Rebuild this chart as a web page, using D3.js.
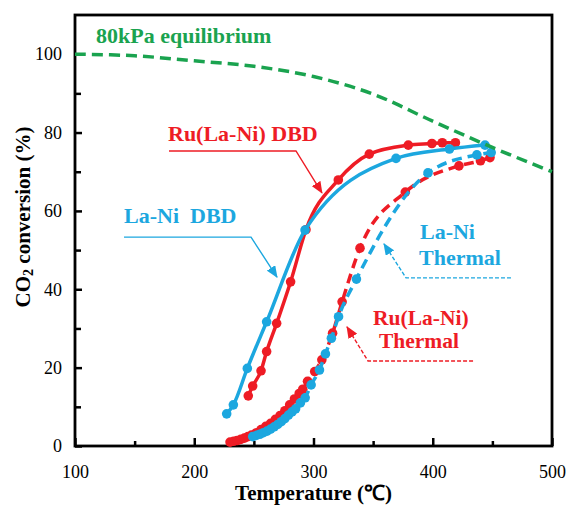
<!DOCTYPE html>
<html><head><meta charset="utf-8">
<script src="https://cdn.jsdelivr.net/npm/d3@7"></script>
<style>body{margin:0;background:#fff}svg{display:block}text{font-family:"Liberation Serif","Times New Roman",serif}</style>
</head><body><svg id="c" width="567" height="505"></svg>
<script>
// ---- data ----
const xTicks = [100, 200, 300, 400, 500];
const xMinorTicks = [150, 250, 350, 450];
const yTicks = [0, 20, 40, 60, 80, 100];
const yMinorTicks = [10, 30, 50, 70, 90];

const eqTemp = [100, 150, 200, 250, 300, 350, 400, 450, 500];
const eqConv = [100, 99.6, 98.3, 96.9, 94.3, 89.8, 82.9, 76.2, 70.0];

const ruDbdTemp = [245.3, 249, 256, 260.7, 269.1, 280.8, 293.7, 320.8, 346.8, 379.5, 399.3, 408, 419];
const ruDbdConv = [12.8, 15.3, 19.2, 24.1, 31.3, 41.9, 55.2, 67.9, 74.5, 76.8, 77.2, 77.4, 77.4];

const laDbdTemp = [227.2, 232.8, 244.5, 260.7, 292.9, 369.2, 414, 443.8];
const laDbdConv = [8.2, 10.5, 19.8, 31.7, 55.1, 73.4, 75.8, 76.8];

const ruThTemp = [230, 233, 236, 239, 242, 245, 248, 252, 256, 260, 264, 268, 272, 276, 280, 284, 288, 291, 295, 301, 307, 316, 324, 339, 377, 422, 440, 448];
const ruThConv = [1.0, 1.2, 1.4, 1.7, 2.0, 2.4, 2.8, 3.4, 4.2, 5.0, 5.8, 6.8, 7.8, 9.0, 10.5, 12.0, 13.4, 14.5, 16.5, 19.0, 22.0, 28.8, 36.8, 50.5, 64.8, 71.5, 72.8, 73.6];

const laThTemp = [249, 252, 255, 258, 261, 264, 267, 270, 273, 276, 279, 282, 285, 289, 293, 298, 305, 310, 315, 321, 336, 396, 437, 449];
const laThConv = [2.4, 2.7, 3.0, 3.4, 3.8, 4.3, 4.9, 5.5, 6.2, 7.0, 7.9, 8.7, 9.5, 11.0, 12.3, 15.6, 19.4, 23.5, 27.5, 33.0, 42.6, 69.7, 74.3, 74.9];

// ---- layout ----
const RED = "#ee1c25", BLUE = "#1ca7df", GREEN = "#1aa34f";
const svg = d3.select("#c");
const x = d3.scaleLinear().domain([100, 500]).range([75, 552]);
const y = d3.scaleLinear().domain([0, 110]).range([446, 15]);

const zip = (a, b) => a.map((v, i) => [v, b[i]]);
const line = d3.line().x(d => x(d[0])).y(d => y(d[1])).curve(d3.curveMonotoneX);

// axes
const gx = svg.append("g").attr("transform", `translate(0,${y(0)})`)
  .call(d3.axisBottom(x).tickValues(xTicks).tickSize(-8).tickPadding(19).tickFormat(d3.format("d")));
const gxm = svg.append("g").attr("transform", `translate(0,${y(0)})`)
  .call(d3.axisBottom(x).tickValues(xMinorTicks).tickSize(-5).tickFormat(""));
const gy = svg.append("g").attr("transform", `translate(${x(100)},0)`)
  .call(d3.axisLeft(y).tickValues(yTicks).tickSize(-7).tickPadding(13).tickFormat(d3.format("d")));
const gym = svg.append("g").attr("transform", `translate(${x(100)},0)`)
  .call(d3.axisLeft(y).tickValues(yMinorTicks).tickSize(-6).tickFormat(""));
[gx, gxm, gy, gym].forEach(g => {
  g.select(".domain").remove();
  g.selectAll(".tick line").attr("stroke", "#000").attr("stroke-width", 2.5);
  g.selectAll("text").attr("font-size", 18).attr("fill", "#000")
    .attr("font-family", "Liberation Serif, Times New Roman, serif");
});

svg.append("rect").attr("x", x(100)).attr("y", y(110))
  .attr("width", x(500) - x(100)).attr("height", y(0) - y(110))
  .attr("fill", "none").attr("stroke", "#000").attr("stroke-width", 2.8);

// series
function series(t, v, color, dashed) {
  const d = zip(t, v);
  svg.append("path").datum(d).attr("d", line).attr("fill", "none")
    .attr("stroke", color).attr("stroke-width", 3.5)
    .attr("stroke-dasharray", dashed ? "10,6" : null);
  svg.append("g").selectAll("circle").data(d).join("circle")
    .attr("cx", p => x(p[0])).attr("cy", p => y(p[1])).attr("r", 4.8).attr("fill", color);
}
series(ruThTemp, ruThConv, RED, true);
series(laThTemp, laThConv, BLUE, true);
series(ruDbdTemp, ruDbdConv, RED, false);
series(laDbdTemp, laDbdConv, BLUE, false);

// equilibrium
svg.append("path").datum(zip(eqTemp, eqConv))
  .attr("d", d3.line().x(d => x(d[0])).y(d => y(d[1])).curve(d3.curveCatmullRom))
  .attr("fill", "none").attr("stroke", GREEN).attr("stroke-width", 3.5).attr("stroke-dasharray", "11,6");

// arrow markers
const defs = svg.append("defs");
[["r", RED], ["b", BLUE]].forEach(([id, c]) => {
  defs.append("marker").attr("id", "ah" + id).attr("viewBox", "0 0 12 10")
    .attr("refX", 11).attr("refY", 5).attr("markerWidth", 12).attr("markerHeight", 10)
    .attr("markerUnits", "userSpaceOnUse").attr("orient", "auto")
    .append("path").attr("d", "M0,0 L12,5 L0,10 Z").attr("fill", c);
});
const aline = d3.line().x(d => x(d[0])).y(d => y(d[1]));
function arrow(pts, color, id, dashed) {
  svg.append("path").attr("d", aline(pts)).attr("fill", "none").attr("stroke", color)
    .attr("stroke-width", 1.4).attr("stroke-dasharray", dashed ? "4,2" : null)
    .attr("marker-end", `url(#ah${id})`);
}
arrow([[178.8, 75.3], [285.3, 75.3], [307.1, 64.6]], RED, "r", false);
arrow([[141.1, 53.3], [247.6, 53.3], [269.4, 43.1]], BLUE, "b", false);
arrow([[465.6, 42.9], [377.6, 42.9], [359.1, 51.6]], BLUE, "b", true);
arrow([[433.8, 21.7], [345.7, 21.7], [328.1, 30.4]], RED, "r", true);

// annotation labels
function label(tx, ty, s, c, fs) {
  svg.append("text").attr("x", x(tx)).attr("y", y(ty)).attr("fill", c)
    .attr("font-size", fs || 22).attr("font-weight", "bold").style("white-space", "pre").text(s);
}
label(117.6, 102.9, "80kPa equilibrium", GREEN);
label(178, 77.8, "Ru(La-Ni) DBD", RED);
label(141.1, 56.9, "La-Ni  DBD", BLUE);
label(389.3, 52.8, "La-Ni", BLUE);
label(388.5, 46.2, "Thermal", BLUE);
label(349.9, 30.9, "Ru(La-Ni)", RED, 21.5);
label(354.9, 25.0, "Thermal", RED, 21.5);

// axis titles
svg.append("text").attr("x", (x(100) + x(500)) / 2).attr("y", 500).attr("text-anchor", "middle")
  .attr("font-size", 21).attr("font-weight", "bold").text("Temperature (℃)");
const yt = svg.append("text").attr("transform", "translate(30,217) rotate(-90)").attr("text-anchor", "middle")
  .attr("font-size", 21).attr("font-weight", "bold");
yt.append("tspan").text("CO");
yt.append("tspan").attr("font-size", 14).attr("dy", 3).text("2");
yt.append("tspan").attr("dy", -3).text(" conversion (%)");
</script></body></html>
